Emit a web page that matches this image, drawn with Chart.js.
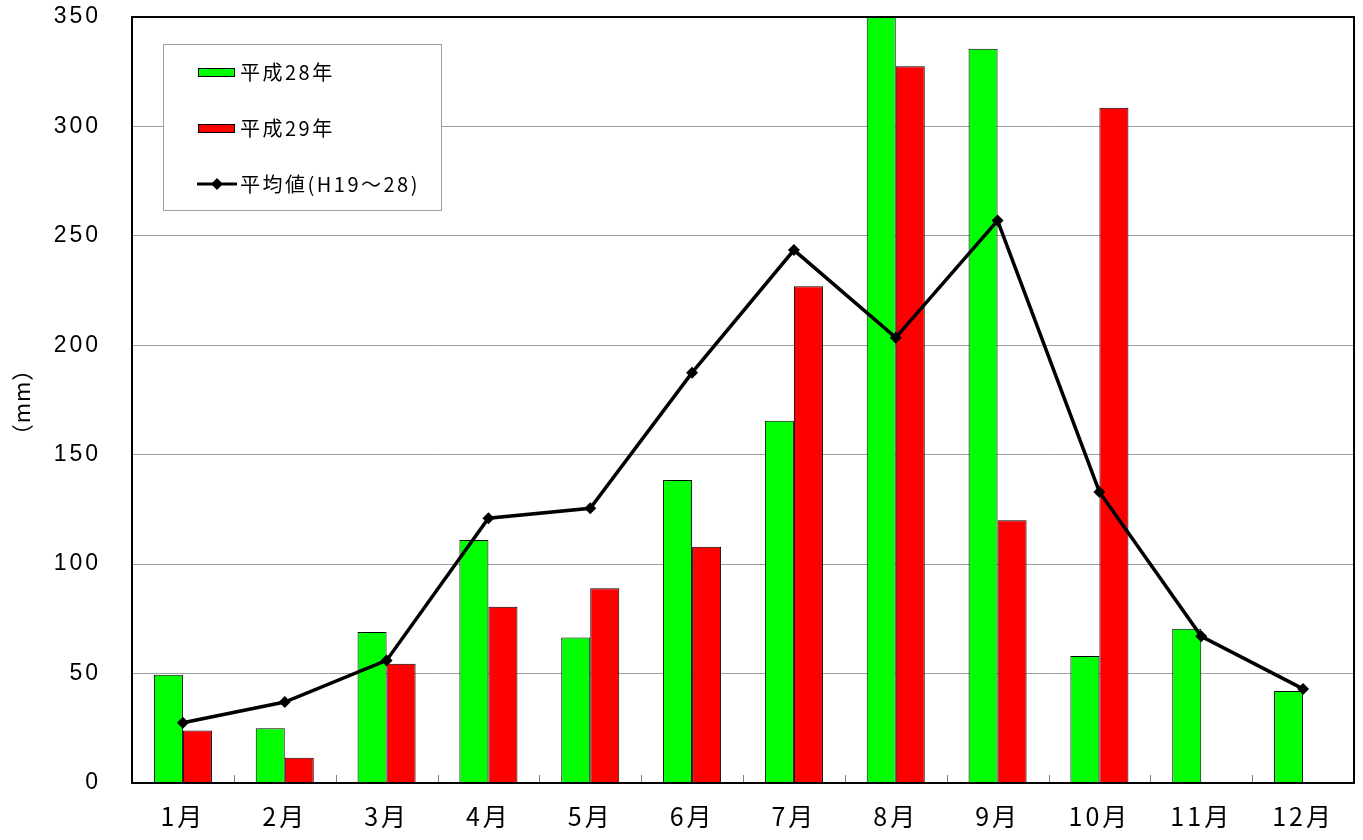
<!DOCTYPE html>
<html>
<head>
<meta charset="utf-8">
<script src="https://cdn.jsdelivr.net/npm/chart.js@4/dist/chart.umd.min.js"></script>
<style>
  body { margin: 0; background: #fff; }
  #wrap { width: 1363px; height: 840px; }
</style>
</head>
<body>
<div id="wrap"><canvas id="rainChart"></canvas></div>
<script>
const months = ['1月', '2月', '3月', '4月', '5月', '6月', '7月', '8月', '9月', '10月', '11月', '12月'];
const h28 = [49.5, 25, 69, 111, 66.5, 138.5, 165.5, 350, 335.5, 58, 70.5, 42];
const h29 = [24, 11.5, 54.5, 80.5, 89, 108, 227, 327.5, 120, 308.5, null, null];
const avgH19to28 = [27.5, 37, 56, 121, 125.5, 187.5, 243.5, 203.5, 257, 133, 67, 43];
const yTicks = [0, 50, 100, 150, 200, 250, 300, 350];

const legendItems = [
    { text: '平成28年', kind: 'bar', color: '#00ff00' },
    { text: '平成29年', kind: 'bar', color: '#ff0000' },
    { text: '平均値(H19～28)', kind: 'line', color: '#000000' }
];

// wider letter spacing for the axis labels only
const spacing = {
    id: 'spacing',
    beforeDraw(chart) { chart.ctx.letterSpacing = '3px'; },
    beforeDatasetsDraw(chart) { chart.ctx.letterSpacing = '0px'; }
};

// frame, inner tick marks, axis title and legend box
const decor = {
    id: 'decor',
    afterDatasetsDraw(chart) {
        const ctx = chart.ctx;
        const a = chart.chartArea;
        const x = chart.scales.x;
        ctx.save();

        // small tick marks between months
        ctx.strokeStyle = '#808080';
        ctx.lineWidth = 1;
        for (let i = 1; i < months.length; i++) {
            const px = Math.round((x.getPixelForValue(i - 1) + x.getPixelForValue(i)) / 2) + 0.5;
            ctx.beginPath();
            ctx.moveTo(px, a.bottom);
            ctx.lineTo(px, a.bottom - 8);
            ctx.stroke();
        }

        // frame
        ctx.strokeStyle = '#000';
        ctx.lineWidth = 2;
        ctx.strokeRect(a.left, a.top, a.right - a.left, a.bottom - a.top);

        // y axis title
        ctx.fillStyle = '#000';
        ctx.font = '22px "Noto Sans CJK JP"';
        ctx.letterSpacing = '1px';
        ctx.textAlign = 'center';
        ctx.textBaseline = 'middle';
        ctx.translate(22, 402);
        ctx.rotate(-Math.PI / 2);
        ctx.fillText('（mm）', 0, 0);
        ctx.setTransform(1, 0, 0, 1, 0, 0);

        // legend
        const bx = 163, by = 44, bw = 278, bh = 166;
        ctx.fillStyle = '#fff';
        ctx.fillRect(bx, by, bw, bh);
        ctx.strokeStyle = '#a0a0a0';
        ctx.lineWidth = 1;
        ctx.strokeRect(bx + 0.5, by + 0.5, bw, bh);

        ctx.font = '20px "Noto Sans CJK JP"';
        ctx.letterSpacing = '2.5px';
        ctx.textAlign = 'left';
        legendItems.forEach(function(item, i) {
            const cy = 72 + i * 56;
            if (item.kind === 'bar') {
                ctx.fillStyle = item.color;
                ctx.fillRect(198, cy - 4, 37, 9);
                ctx.strokeStyle = '#000';
                ctx.lineWidth = 1;
                ctx.strokeRect(198.5, cy - 3.5, 36, 8);
            } else {
                ctx.strokeStyle = '#000';
                ctx.lineWidth = 3;
                ctx.beginPath();
                ctx.moveTo(197, cy);
                ctx.lineTo(237, cy);
                ctx.stroke();
                ctx.fillStyle = '#000';
                ctx.beginPath();
                ctx.moveTo(217, cy - 6);
                ctx.lineTo(223, cy);
                ctx.lineTo(217, cy + 6);
                ctx.lineTo(211, cy);
                ctx.closePath();
                ctx.fill();
            }
            ctx.fillStyle = '#000';
            ctx.textBaseline = 'middle';
            ctx.fillText(item.text, 240, cy);
        });
        ctx.restore();
    }
};

const data = {
    labels: months,
    datasets: [
        {
            type: 'line',
            label: '平均値(H19～28)',
            data: avgH19to28,
            borderColor: '#000',
            backgroundColor: '#000',
            borderWidth: 3.5,
            pointStyle: 'rectRot',
            pointRadius: 6,
            pointBorderWidth: 0,
            tension: 0,
            order: 0
        },
        {
            label: '平成28年',
            data: h28,
            backgroundColor: '#00ff00',
            borderColor: '#000',
            borderWidth: 1,
            categoryPercentage: 0.57,
            barPercentage: 1.0,
            order: 1
        },
        {
            label: '平成29年',
            data: h29,
            backgroundColor: '#ff0000',
            borderColor: '#000',
            borderWidth: 1,
            categoryPercentage: 0.57,
            barPercentage: 1.0,
            order: 1
        }
    ]
};

const config = {
    type: 'bar',
    data: data,
    options: {
        responsive: true,
        maintainAspectRatio: false,
        animation: false,
        layout: { padding: { top: 17, right: 9, left: 0, bottom: 0 } },
        plugins: {
            legend: { display: false },
            tooltip: { enabled: false }
        },
        scales: {
            x: {
                grid: { display: false, drawTicks: false },
                border: { display: false },
                ticks: {
                    color: '#000',
                    font: { family: '"Noto Sans CJK JP"', size: 25 },
                    padding: 18,
                    maxRotation: 0
                },
                afterFit: function(scale) { scale.height = 57; }
            },
            y: {
                min: 0,
                max: 350,
                afterBuildTicks: function(scale) {
                    scale.ticks = yTicks.map(function(v) { return { value: v }; });
                },
                grid: { color: '#a0a0a0', lineWidth: 1, drawTicks: false },
                border: { display: false },
                ticks: {
                    color: '#000',
                    font: { family: '"Liberation Sans", Arial', size: 23 },
                    padding: 31
                },
                afterFit: function(scale) {
                    scale.width = 132;
                    scale.paddingTop = 0;
                    scale.paddingBottom = 0;
                }
            }
        }
    },
    plugins: [spacing, decor]
};

const rainChart = new Chart(document.getElementById('rainChart'), config);
</script>
</body>
</html>
